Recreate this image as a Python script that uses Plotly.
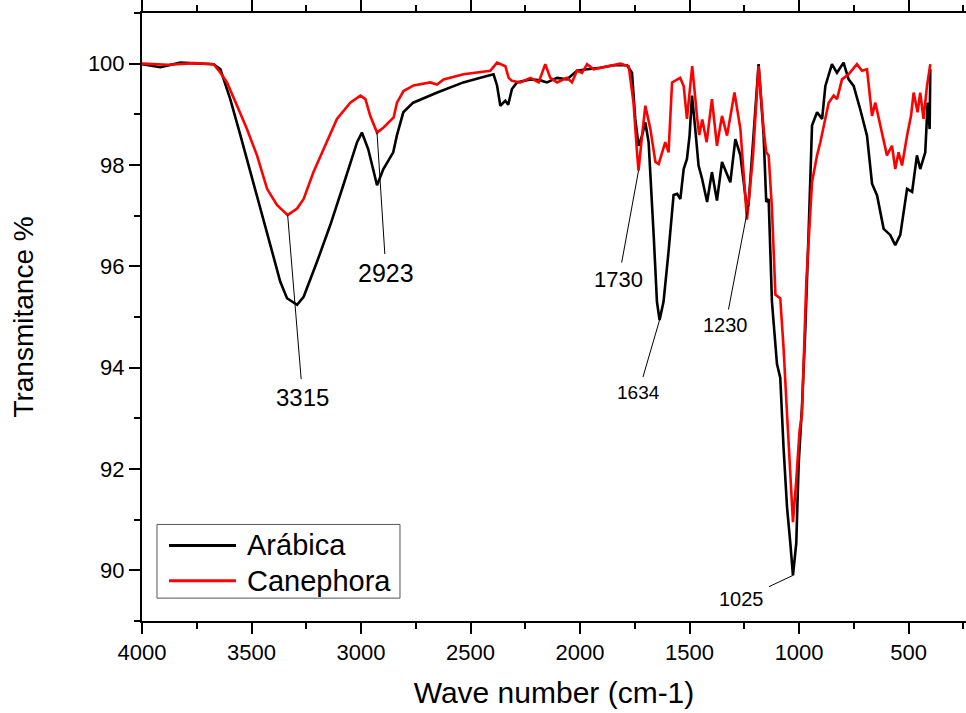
import plotly.graph_objects as go

# ---------------- data ----------------
arabica_wn = [4000, 3916, 3825, 3734, 3673, 3642, 3597, 3551, 3506, 3460, 3414, 3369, 3338, 3292, 3262,
              3201, 3140, 3081, 3018, 2996, 2967, 2927, 2898, 2853, 2836, 2807, 2762, 2652, 2533, 2455,
              2395, 2379, 2364, 2341, 2328, 2311, 2288, 2227, 2181, 2151, 2105, 2060, 2014, 1968, 1908,
              1847, 1786, 1763, 1748, 1733, 1717, 1702, 1687, 1664, 1649, 1637, 1619, 1596, 1573, 1557,
              1542, 1527, 1512, 1500, 1489, 1474, 1459, 1443, 1420, 1398, 1375, 1352, 1329, 1314, 1291,
              1268, 1238, 1231, 1208, 1185, 1162, 1150, 1139, 1124, 1101, 1086, 1071, 1055, 1040, 1028,
              1013, 1002, 987, 972, 957, 941, 918, 895, 880, 850, 827, 797, 774, 751, 721,
              690, 667, 644, 614, 584, 561, 538, 507, 484, 462, 447, 424, 413, 404, 401]
arabica_t = [99.99, 99.93, 100.02, 100.00, 99.99, 99.89, 99.30, 98.59, 97.86, 97.13, 96.42, 95.70, 95.37, 95.24, 95.40,
             96.09, 96.82, 97.60, 98.45, 98.64, 98.31, 97.60, 97.92, 98.25, 98.59, 99.04, 99.23, 99.43, 99.63, 99.72,
             99.79, 99.57, 99.17, 99.27, 99.19, 99.50, 99.63, 99.69, 99.67, 99.63, 99.72, 99.69, 99.86, 99.89, 99.92,
             99.97, 99.97, 99.82, 98.91, 98.38, 98.58, 98.84, 98.45, 96.62, 95.30, 94.94, 95.30, 96.29, 97.41, 97.43,
             97.33, 97.92, 98.12, 98.58, 99.37, 98.71, 97.99, 97.73, 97.27, 97.86, 97.30, 98.06, 97.80, 97.66, 98.51,
             98.19, 97.14, 97.21, 98.59, 99.99, 98.59, 97.27, 97.33, 95.30, 94.07, 93.80, 92.42, 91.24, 90.53, 89.90,
             90.53, 92.10, 93.21, 94.72, 96.62, 98.78, 99.04, 98.91, 99.56, 99.99, 99.82, 100.02, 99.69, 99.56, 99.10,
             98.58, 97.63, 97.40, 96.74, 96.62, 96.42, 96.62, 97.53, 97.47, 98.19, 97.92, 98.25, 99.23, 98.71, 99.89]

canephora_wn = [4000, 3880, 3760, 3673, 3642, 3612, 3566, 3521, 3475, 3429, 3384, 3335, 3292, 3262, 3217,
                3171, 3110, 3049, 3003, 2980, 2958, 2927, 2897, 2851, 2836, 2806, 2760, 2684, 2653, 2623,
                2532, 2410, 2379, 2341, 2326, 2311, 2273, 2227, 2189, 2159, 2136, 2105, 2060, 2037, 2014,
                1991, 1968, 1938, 1877, 1816, 1778, 1756, 1740, 1733, 1717, 1702, 1679, 1656, 1641, 1611,
                1596, 1580, 1543, 1527, 1512, 1488, 1465, 1456, 1442, 1422, 1398, 1375, 1352, 1329, 1295,
                1268, 1238, 1211, 1185, 1162, 1150, 1139, 1124, 1108, 1086, 1071, 1055, 1040, 1028, 1013,
                998, 987, 979, 967, 941, 918, 903, 888, 865, 842, 827, 804, 774, 736, 713,
                690, 667, 652, 629, 599, 576, 561, 546, 530, 507, 489, 477, 459, 447, 432,
                416, 401]
canephora_t = [100.00, 99.98, 100.01, 99.99, 99.82, 99.63, 99.17, 98.71, 98.19, 97.53, 97.21, 97.01, 97.14, 97.33, 97.86,
               98.32, 98.91, 99.23, 99.37, 99.30, 98.97, 98.64, 98.74, 98.94, 99.23, 99.46, 99.57, 99.63, 99.59, 99.69,
               99.79, 99.86, 100.02, 99.95, 99.72, 99.66, 99.63, 99.72, 99.63, 99.99, 99.72, 99.63, 99.72, 99.63, 99.86,
               99.82, 99.99, 99.89, 99.95, 100.00, 99.95, 99.23, 98.25, 97.89, 98.58, 99.17, 98.71, 98.06, 98.02, 98.45,
               98.25, 99.63, 99.72, 99.56, 98.91, 99.95, 98.91, 98.59, 98.90, 98.45, 99.30, 98.38, 98.97, 98.58, 99.43,
               98.71, 96.92, 98.15, 99.95, 98.71, 98.25, 98.19, 97.14, 95.44, 95.37, 94.39, 93.08, 91.77, 90.95, 91.77,
               92.75, 93.08, 94.07, 95.70, 97.66, 98.19, 98.45, 98.78, 99.23, 99.37, 99.30, 99.69, 99.79, 99.99, 99.86,
               99.89, 98.97, 99.23, 98.78, 98.19, 98.38, 97.92, 98.25, 97.99, 98.58, 98.97, 99.43, 99.04, 99.43, 98.91,
               99.56, 99.99]

series_names = ["Arábica", "Canephora"]
series_colors = ["#000000", "#ff0000"]

x_tick_vals = [4000, 3500, 3000, 2500, 2000, 1500, 1000, 500]
y_tick_vals = [90, 92, 94, 96, 98, 100]

# peak labels: text, wavenumber / transmittance of the pointed spot
peak_labels = ["3315", "2923", "1730", "1634", "1230", "1025"]
peak_x = [3335, 2927, 1733, 1637, 1231, 1028]
peak_y = [97.01, 98.64, 97.89, 94.94, 97.21, 89.90]
# style: label offsets in pixels and font sizes
peak_ax = [15, 9, -20, -21, -23, -51]
peak_ay = [182, 140, 109, 72, 120, 24]
peak_size = [24, 25, 22, 19, 20, 20]

FONT = "Arial, 'Liberation Sans', sans-serif"

fig = go.Figure()
for name, color, xs, ys in zip(series_names, series_colors,
                               [arabica_wn, canephora_wn], [arabica_t, canephora_t]):
    fig.add_trace(go.Scatter(x=xs, y=ys, mode="lines", name=name, showlegend=False,
                             line=dict(color=color, width=2.6)))

for lab, px, py, ax, ay, sz in zip(peak_labels, peak_x, peak_y, peak_ax, peak_ay, peak_size):
    fig.add_annotation(x=px, y=py, xref="x", yref="y", text=lab, showarrow=True,
                       ax=ax, ay=ay, arrowhead=0, arrowwidth=1, arrowcolor="#000000",
                       borderpad=4, font=dict(family=FONT, size=sz, color="#000000"))

# legend box drawn in the style of the original (long line samples)
LEG_X0, LEG_X1, LEG_Y0, LEG_Y1 = 0.0182, 0.3131, 0.0376, 0.1588
SAMPLE_X0, SAMPLE_X1, TEXT_X = 0.0328, 0.1141, 0.125
ROW_Y = [0.1243, 0.0660]
fig.add_shape(type="rect", xref="paper", yref="paper", x0=LEG_X0, x1=LEG_X1, y0=LEG_Y0, y1=LEG_Y1,
              line=dict(color="#555555", width=1), fillcolor="white", layer="above")
for name, color, ry in zip(series_names, series_colors, ROW_Y):
    fig.add_shape(type="line", xref="paper", yref="paper", x0=SAMPLE_X0, x1=SAMPLE_X1, y0=ry, y1=ry,
                  line=dict(color=color, width=3), layer="above")
    fig.add_annotation(xref="paper", yref="paper", x=TEXT_X, y=ry, text=name, showarrow=False,
                       xanchor="left", yanchor="middle",
                       font=dict(family=FONT, size=29, color="#000000"))

fig.update_layout(
    width=966, height=713,
    margin=dict(l=142, r=0, t=10, b=92),
    paper_bgcolor="white", plot_bgcolor="white",
    font=dict(family=FONT, color="#000000"),
    showlegend=False,
)

fig.update_xaxes(
    range=[4000, 238], tickvals=x_tick_vals, ticktext=[str(v) for v in x_tick_vals],
    showline=True, linewidth=2, linecolor="#000000", mirror="ticks",
    ticks="outside", ticklen=11, tickwidth=2, tickcolor="#000000",
    minor=dict(dtick=250, tick0=0, ticks="outside", ticklen=6, tickwidth=2, tickcolor="#000000"),
    showgrid=False, zeroline=False,
    tickfont=dict(family=FONT, size=22, color="#000000"),
    title=dict(text="Wave number (cm-1)", font=dict(family=FONT, size=30, color="#000000"), standoff=18),
)
fig.update_yaxes(
    range=[89, 101], tickvals=y_tick_vals, ticktext=[str(v) for v in y_tick_vals],
    showline=True, linewidth=2, linecolor="#000000", mirror=False,
    ticks="outside", ticklen=11, tickwidth=2, tickcolor="#000000",
    minor=dict(dtick=1, tick0=0, ticks="outside", ticklen=6, tickwidth=2, tickcolor="#000000"),
    showgrid=False, zeroline=False,
    tickfont=dict(family=FONT, size=22, color="#000000"),
    title=dict(text="Transmitance %", font=dict(family=FONT, size=28, color="#000000"), standoff=46),
)

fig.write_html("out.html")
